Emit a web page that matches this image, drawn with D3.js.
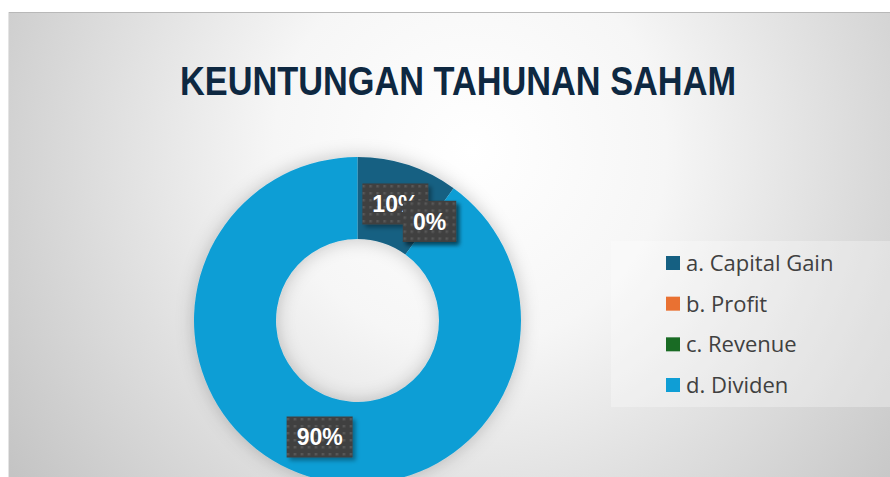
<!DOCTYPE html>
<html lang="id">
<head>
<meta charset="UTF-8">
<script src="https://d3js.org/d3.v7.min.js"></script>
<style>
body { margin: 0; background: #fff; }
svg { display: block; }
.title { font: bold 41px "Liberation Sans", Arial, sans-serif; fill: #0e2841; }
.legend text { font: 22px "Open Sans", sans-serif; fill: #404040; }
.lbl text { font: bold 23px "Liberation Sans", Arial, sans-serif; fill: #fff; }
</style>
</head>
<body>
<svg width="890" height="477"></svg>
<script>
const categories = ["a. Capital Gain", "b. Profit", "c. Revenue", "d. Dividen"];
const values = [10, 0, 0, 90];
const labels = ["10%", "0%", "0%", "90%"];
const colors = ["#156082", "#e97132", "#196b24", "#0f9ed5"];

const svg = d3.select("svg");
const W = 890, H = 477;
const defs = svg.append("defs");

// background gradient
const bg = defs.append("radialGradient").attr("id", "bg")
  .attr("gradientUnits", "userSpaceOnUse")
  .attr("cx", 470).attr("cy", 150).attr("r", 560);
bg.append("stop").attr("offset", "0%").attr("stop-color", "#ffffff");
bg.append("stop").attr("offset", "35%").attr("stop-color", "#f6f6f6");
bg.append("stop").attr("offset", "100%").attr("stop-color", "#c4c4c4");

const sh = defs.append("filter").attr("id", "sh")
  .attr("x", "-30%").attr("y", "-30%").attr("width", "160%").attr("height", "160%");
sh.append("feDropShadow").attr("dx", 0).attr("dy", 0).attr("stdDeviation", 9)
  .attr("flood-color", "#000").attr("flood-opacity", 0.22);

const bsh = defs.append("filter").attr("id", "bsh")
  .attr("x", "-30%").attr("y", "-30%").attr("width", "160%").attr("height", "160%");
bsh.append("feDropShadow").attr("dx", 3).attr("dy", 3).attr("stdDeviation", 2)
  .attr("flood-color", "#000").attr("flood-opacity", 0.35);

const pat = defs.append("pattern").attr("id", "dots")
  .attr("patternUnits", "userSpaceOnUse").attr("width", 7).attr("height", 7);
pat.append("rect").attr("width", 7).attr("height", 7).attr("fill", "#404040");
pat.append("rect").attr("x", 2).attr("y", 2).attr("width", 2.5).attr("height", 2.5).attr("fill", "#585858");

// chart area
svg.append("rect").attr("x", 8).attr("y", 12).attr("width", W - 8).attr("height", H - 12)
  .attr("fill", "url(#bg)");
svg.append("line").attr("x1", 8).attr("x2", W).attr("y1", 12.5).attr("y2", 12.5)
  .attr("stroke", "#b8b8b8");
svg.append("line").attr("x1", 8.5).attr("x2", 8.5).attr("y1", 12).attr("y2", H)
  .attr("stroke", "#e4e4e4");

svg.append("text").attr("class", "title")
  .attr("x", 458).attr("y", 95).attr("text-anchor", "middle")
  .attr("textLength", 556).attr("lengthAdjust", "spacingAndGlyphs")
  .text("KEUNTUNGAN TAHUNAN SAHAM");

// donut
const cx = 357.5, cy = 320.5, rOut = 163.5, rIn = 81.5;
const pie = d3.pie().sort(null).value(d => d);
const arcs = pie(values);
const arc = d3.arc().innerRadius(rIn).outerRadius(rOut);
const g = svg.append("g").attr("transform", `translate(${cx},${cy})`);
g.append("g").attr("filter", "url(#sh)")
  .selectAll("path").data(arcs).enter().append("path")
  .attr("d", arc)
  .attr("fill", (d, i) => colors[i]);

// data labels
const lg = g.selectAll(".lbl").data(arcs).enter().append("g")
  .attr("class", "lbl")
  .attr("transform", d => `translate(${arc.centroid(d)})`);
lg.each(function(d, i) {
  const s = d3.select(this);
  const t = s.append("text").attr("text-anchor", "middle").attr("dy", "0.36em").text(labels[i]);
  const w = t.node().getComputedTextLength() + 20;
  s.insert("rect", "text")
    .attr("x", -w / 2).attr("y", -20.5).attr("width", w).attr("height", 41)
    .attr("fill", "url(#dots)").attr("filter", "url(#bsh)");
});

// legend
svg.append("rect").attr("x", 611).attr("y", 241).attr("width", W - 611).attr("height", 166)
  .attr("fill", "#ffffff").attr("fill-opacity", 0.3);
const y = d3.scalePoint().domain(categories).range([263, 385]);
const leg = svg.append("g").attr("class", "legend").selectAll("g")
  .data(categories).enter().append("g")
  .attr("transform", d => `translate(666,${y(d)})`);
leg.append("rect").attr("x", 0).attr("y", -7).attr("width", 14).attr("height", 14)
  .attr("fill", (d, i) => colors[i]);
leg.append("text").attr("x", 20).attr("dy", "0.36em").text(d => d);
</script>
</body>
</html>
